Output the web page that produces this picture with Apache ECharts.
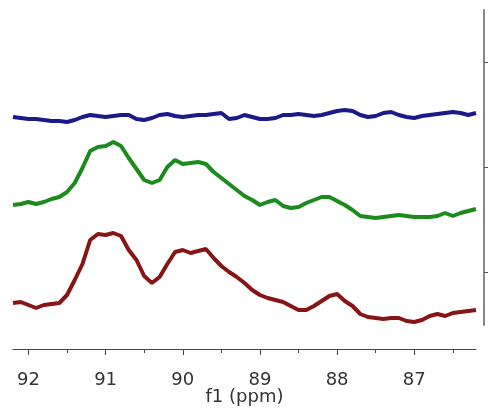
<!DOCTYPE html>
<html>
<head>
<meta charset="utf-8">
<script src="https://cdn.jsdelivr.net/npm/echarts@6/dist/echarts.min.js"></script>
<style>
  html, body { margin: 0; padding: 0; background: #fff; }
  #chart { width: 496px; height: 409px; }
</style>
</head>
<body>
<div id="chart"></div>
<script>
// Chemical shift grid (ppm), high field on the right
const shift = [
  92.2, 92.1, 92.0, 91.9, 91.8, 91.7, 91.6, 91.5, 91.4, 91.3,
  91.2, 91.1, 91.0, 90.9, 90.8, 90.7, 90.6, 90.5, 90.4, 90.3,
  90.2, 90.1, 90.0, 89.9, 89.8, 89.7, 89.6, 89.5, 89.4, 89.3,
  89.2, 89.1, 89.0, 88.9, 88.8, 88.7, 88.6, 88.5, 88.4, 88.3,
  88.2, 88.1, 88.0, 87.9, 87.8, 87.7, 87.6, 87.5, 87.4, 87.3,
  87.2, 87.1, 87.0, 86.9, 86.8, 86.7, 86.6, 86.5, 86.4, 86.3,
  86.2
];

// Stacked spectra (intensity incl. vertical offset)
const topTrace = [
  208, 207, 206, 206, 205, 204, 204, 203, 205, 208,
  210, 209, 208, 209, 210, 210, 206, 205, 207, 210,
  211, 209, 208, 209, 210, 210, 211, 212, 206, 207,
  210, 208, 206, 206, 207, 210, 210, 211, 210, 209,
  210, 212, 214, 215, 214, 210, 208, 209, 212, 213,
  210, 208, 207, 209, 210, 211, 212, 213, 212, 210,
  212
];
const middleTrace = [
  120, 121, 123, 121, 123, 126, 128, 133, 142, 157,
  174, 178, 179, 183, 179, 167, 156, 145, 142, 145,
  158, 165, 161, 162, 163, 161, 153, 147, 141, 135,
  129, 125, 120, 123, 125, 119, 117, 118, 122, 125,
  128, 128, 124, 120, 115, 109, 108, 107, 108, 109,
  110, 109, 108, 108, 108, 109, 112, 109, 112, 114,
  116
];
const bottomTrace = [
  22, 23, 20, 17, 20, 21, 22, 30, 45, 61,
  85, 91, 90, 92, 89, 75, 65, 49, 42, 48,
  61, 73, 75, 72, 74, 76, 67, 59, 53, 48,
  42, 35, 30, 27, 25, 23, 19, 15, 15, 19,
  24, 29, 31, 24, 19, 11, 8, 7, 6, 7,
  7, 4, 3, 5, 9, 11, 9, 12, 13, 14,
  15
];

const majorTicks = [87, 88, 89, 90, 91, 92];
const minorTicks = [86.5, 87.5, 88.5, 89.5, 90.5, 91.5];
const yTicks = [52.5, 157.5, 262.5];

const pairs = vals => shift.map((s, i) => [s, vals[i]]);

const chart = echarts.init(document.getElementById('chart'), null, { renderer: 'canvas' });

const labelFont = { fontFamily: 'DejaVu Sans', fontSize: 18, color: '#333' };
const plotBox = { left: 13, right: 20, top: 10, bottom: 84, outerBoundsMode: 'none', containLabel: false };

chart.setOption({
  animation: false,
  backgroundColor: '#fff',
  grid: [ { ...plotBox }, { ...plotBox } ],
  xAxis: [
    {
      gridIndex: 0, type: 'value', inverse: true, min: 86.2, max: 92.2,
      position: 'bottom', offset: 24,
      name: 'f1 (ppm)', nameLocation: 'middle', nameGap: 39, nameMoveOverlap: false,
      nameTextStyle: labelFont,
      axisLine: { show: true, onZero: false, lineStyle: { color: '#444', width: 1 } },
      axisTick: { show: true, length: 6, customValues: majorTicks, lineStyle: { color: '#444' } },
      axisLabel: { show: true, margin: 22, customValues: majorTicks, ...labelFont },
      splitLine: { show: false }
    },
    {
      // half-ppm minor ticks on an overlaid copy of the same scale
      gridIndex: 1, type: 'value', inverse: true, min: 86.2, max: 92.2,
      position: 'bottom', offset: 24,
      axisLine: { show: false, onZero: false },
      axisTick: { show: true, length: 4, customValues: minorTicks, lineStyle: { color: '#444' } },
      axisLabel: { show: false },
      splitLine: { show: false }
    }
  ],
  yAxis: [
    {
      gridIndex: 0, type: 'value', min: 0, max: 315, position: 'right', offset: 8,
      axisLine: { show: true, onZero: false, lineStyle: { color: '#888', width: 2 } },
      axisTick: { show: true, inside: false, length: 4, customValues: yTicks, lineStyle: { color: '#555' } },
      axisLabel: { show: false },
      splitLine: { show: false }
    },
    {
      gridIndex: 1, type: 'value', min: 0, max: 315, show: false
    }
  ],
  series: [
    { type: 'line', xAxisIndex: 0, yAxisIndex: 0, data: pairs(topTrace), showSymbol: false,
      lineStyle: { color: '#1a1a8a', width: 4 } },
    { type: 'line', xAxisIndex: 0, yAxisIndex: 0, data: pairs(middleTrace), showSymbol: false,
      lineStyle: { color: '#1d8a1d', width: 4 } },
    { type: 'line', xAxisIndex: 0, yAxisIndex: 0, data: pairs(bottomTrace), showSymbol: false,
      lineStyle: { color: '#861616', width: 4 } }
  ]
});
</script>
</body>
</html>
